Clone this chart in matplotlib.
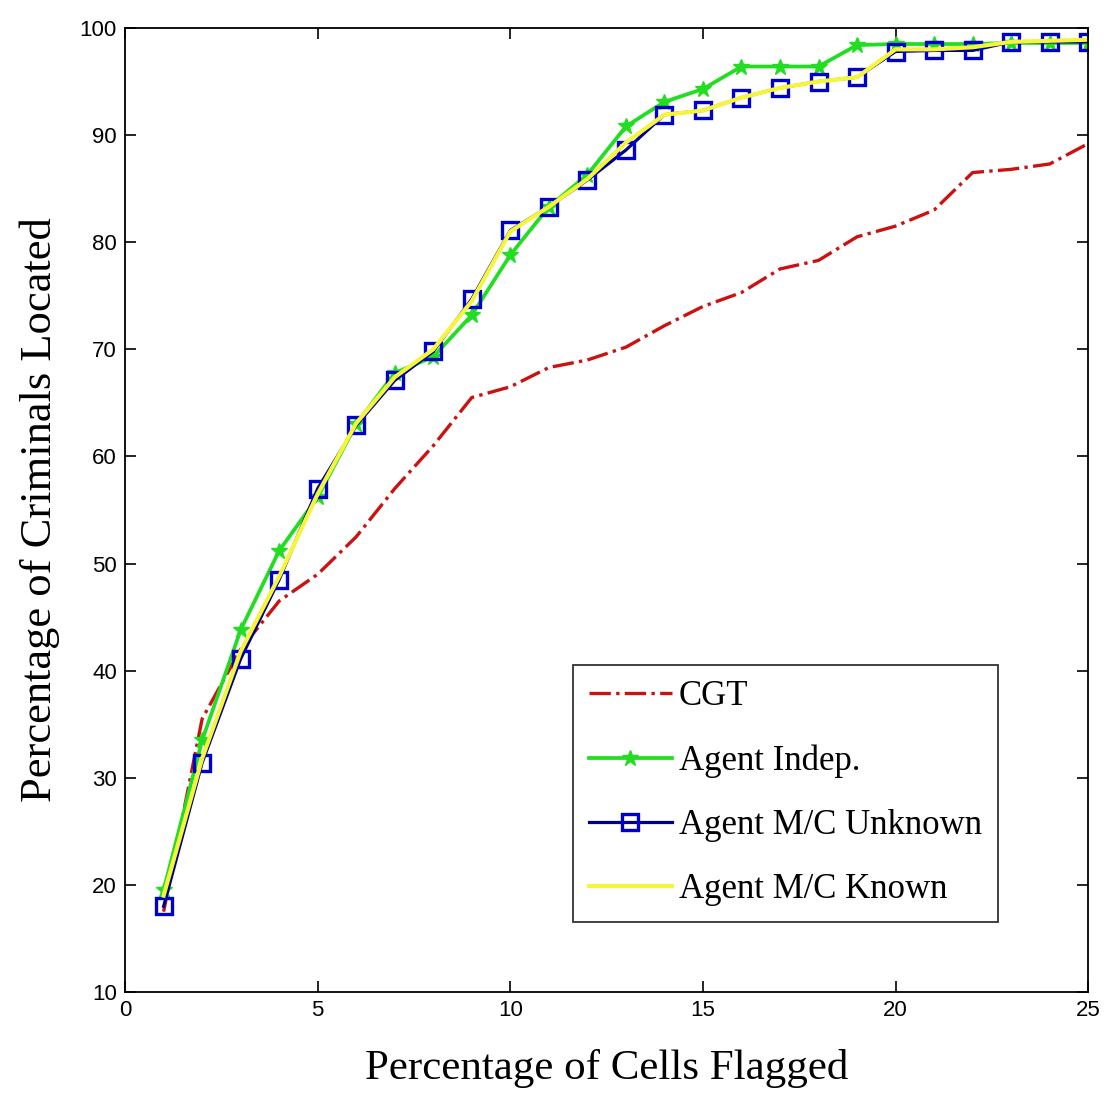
import numpy as np
import matplotlib
matplotlib.use("Agg")
import matplotlib.pyplot as plt

# percentage of cells flagged
x = np.arange(1, 26)

cgt = [17.5, 35.5, 42.0, 46.5, 49.0, 52.5, 57.0, 61.0, 65.5, 66.5,
       68.3, 69.0, 70.2, 72.2, 74.0, 75.3, 77.5, 78.3, 80.5, 81.5,
       83.0, 86.5, 86.8, 87.3, 89.2]
indep = [19.5, 33.5, 43.8, 51.2, 56.2, 63.0, 67.8, 69.3, 73.2, 78.8,
         83.3, 86.3, 90.8, 93.1, 94.3, 96.4, 96.4, 96.4, 98.4, 98.5,
         98.5, 98.5, 98.6, 98.6, 98.6]
mc_unknown = [18.0, 31.4, 41.1, 48.5, 57.0, 62.9, 67.1, 69.8, 74.7, 81.1,
              83.3, 85.8, 88.6, 91.9, 92.3, 93.5, 94.4, 95.0, 95.4, 97.8,
              97.9, 97.9, 98.7, 98.7, 98.7]
mc_known = [19.0, 31.8, 41.8, 48.8, 56.5, 63.1, 67.4, 70.0, 74.5, 81.0,
            83.3, 85.9, 89.3, 91.9, 92.3, 93.5, 94.4, 95.0, 95.4, 98.0,
            98.0, 98.2, 98.7, 98.8, 98.9]

fig = plt.figure(figsize=(11.07, 10.96), dpi=100)
ax = fig.add_axes([0.113, 0.0949, 0.870, 0.8796])

ax.plot(x, cgt, color="#cc1111", linestyle="-.", linewidth=2.4, label="CGT")
ax.plot(x, indep, color="#22dd22", linewidth=2.7, marker="*", markersize=12,
        label="Agent Indep.")
ax.plot(x, mc_unknown, color="#000088", linewidth=2.3, marker="s", markersize=11.5,
        markerfacecolor="none", markeredgecolor="#0000cc", markeredgewidth=2.4,
        label="Agent M/C Unknown")
ax.plot(x, mc_known, color="#f5f53a", linewidth=3.0, label="Agent M/C Known")

ax.set_xlim(0, 25)
ax.set_ylim(10, 100)
ax.set_xticks([0, 5, 10, 15, 20, 25])
ax.set_yticks(range(10, 101, 10))
ax.tick_params(direction="in", top=True, right=True, length=8, width=1.2,
               labelsize=16, pad=6)
for lab in ax.get_xticklabels() + ax.get_yticklabels():
    lab.set_family("Liberation Sans")
for s in ax.spines.values():
    s.set_linewidth(1.3)

ax.set_xlabel("Percentage of Cells Flagged", family="Liberation Serif",
              fontsize=31, labelpad=20)
ax.set_ylabel("Percentage of Criminals Located", family="Liberation Serif",
              fontsize=32, labelpad=14)

leg = ax.legend(loc="lower left", bbox_to_anchor=(0.465, 0.0726, 0.441, 0.276),
                mode="expand", borderaxespad=0,
                prop={"family": "Liberation Serif", "size": 25},
                frameon=True, fancybox=False, handlelength=2.4,
                handletextpad=0.2, labelspacing=0.9, borderpad=0.45)
leg.get_frame().set_edgecolor("black")
leg.get_frame().set_linewidth(1.3)

fig.savefig("out.png", dpi=100)
